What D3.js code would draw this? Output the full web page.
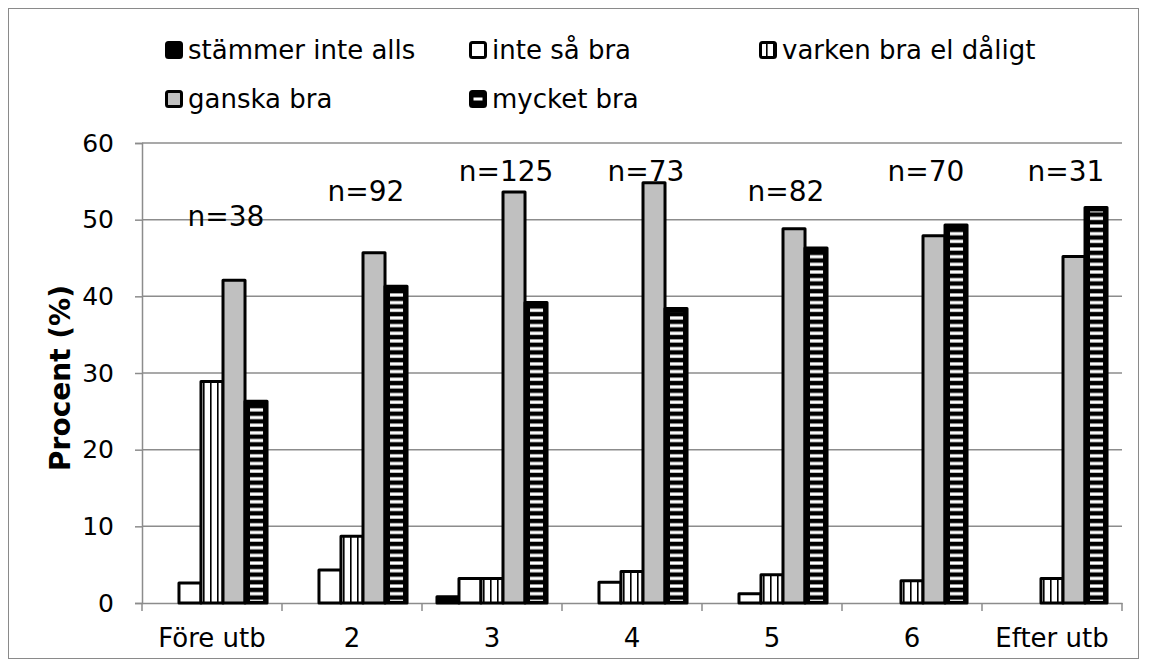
<!DOCTYPE html>
<html>
<head>
<meta charset="utf-8">
<script src="https://cdn.jsdelivr.net/npm/d3@7"></script>
<style>
  body { margin: 0; background: #fff; }
  text { font-family: "DejaVu Sans", Verdana, sans-serif; fill: #000; }
</style>
</head>
<body>
<div id="chart"></div>
<script>
// Data
const categories = ["Före utb", "2", "3", "4", "5", "6", "Efter utb"];
const series = ["stämmer inte alls", "inte så bra", "varken bra el dåligt", "ganska bra", "mycket bra"];
const stammerInteAlls = [0, 0, 0.8, 0, 0, 0, 0];
const inteSaBra = [2.6, 4.3, 3.2, 2.7, 1.2, 0, 0];
const varkenBra = [28.9, 8.7, 3.2, 4.1, 3.7, 2.9, 3.2];
const ganskaBra = [42.1, 45.7, 53.6, 54.8, 48.8, 47.9, 45.2];
const mycketBra = [26.3, 41.3, 39.2, 38.4, 46.3, 49.3, 51.6];
const nLabels = ["n=38", "n=92", "n=125", "n=73", "n=82", "n=70", "n=31"];
const nLabelLevel = [49.2, 52.5, 55.1, 55.1, 52.5, 55.1, 55.1];
const yTicks = [0, 10, 20, 30, 40, 50, 60];

const values = [stammerInteAlls, inteSaBra, varkenBra, ganskaBra, mycketBra];

// Dimensions
const width = 1152, height = 666;
const plot = {left: 142, right: 1122, top: 143, bottom: 603};

const svg = d3.select("#chart")
    .append("svg")
        .attr("width", width)
        .attr("height", height);

// patterns
const defs = svg.append("defs");
const vs = defs.append("pattern")
    .attr("id", "vstripe")
    .attr("patternUnits", "userSpaceOnUse")
    .attr("width", 7).attr("height", 10);
vs.append("rect").attr("width", 7).attr("height", 10).attr("fill", "#fff");
vs.append("rect").attr("x", 0).attr("width", 1.6).attr("height", 10).attr("fill", "#000");

const hs = defs.append("pattern")
    .attr("id", "hstripe")
    .attr("patternUnits", "userSpaceOnUse")
    .attr("width", 10).attr("height", 7.66);
hs.append("rect").attr("width", 10).attr("height", 7.66).attr("fill", "#000");
hs.append("rect").attr("y", 2.3).attr("width", 10).attr("height", 3.2).attr("fill", "#fff");

// Outer border
svg.append("rect")
    .attr("x", 8.5).attr("y", 8.5)
    .attr("width", 1130).attr("height", 650)
    .attr("fill", "none")
    .attr("stroke", "#8a8a8a")
    .attr("stroke-width", 1);

// Scales
const x0 = d3.scaleBand()
    .domain(categories)
    .range([plot.left, plot.right])
    .paddingInner(0).paddingOuter(0);

const x1 = d3.scaleBand()
    .domain(series)
    .range([0, x0.bandwidth()])
    .paddingInner(0).paddingOuter(0.68);

const y = d3.scaleLinear()
    .domain([0, 60])
    .range([plot.bottom, plot.top]);

// Gridlines
svg.append("g")
    .selectAll("line")
    .data(yTicks.filter(d => d > 0))
    .join("line")
        .attr("x1", plot.left).attr("x2", plot.right)
        .attr("y1", d => y(d)).attr("y2", d => y(d))
        .attr("stroke", "#8c8c8c")
        .attr("stroke-width", 1.5);

// Y axis
const yAxis = svg.append("g")
    .attr("transform", `translate(${plot.left},0)`)
    .call(d3.axisLeft(y).tickValues(yTicks).tickSize(7).tickPadding(21));
yAxis.select(".domain").attr("stroke", "#8c8c8c").attr("stroke-width", 1.5);
yAxis.selectAll(".tick line").attr("stroke", "#8c8c8c").attr("stroke-width", 1.5);
yAxis.selectAll(".tick text")
    .style("font-family", "DejaVu Sans")
    .style("font-size", "25px")
    .attr("fill", "#000");

// X axis
const xAxis = svg.append("g")
    .attr("transform", `translate(0,${plot.bottom})`)
    .call(d3.axisBottom(x0).tickSize(0).tickPadding(26));
xAxis.select(".domain").attr("stroke", "#8c8c8c").attr("stroke-width", 1.5);
xAxis.selectAll(".tick text")
    .style("font-family", "DejaVu Sans")
    .style("font-size", "26px")
    .attr("fill", "#000");
// category separators
svg.append("g")
    .selectAll("line")
    .data(categories.concat(["_end"]))
    .join("line")
        .attr("x1", (d, i) => plot.left + i * x0.step())
        .attr("x2", (d, i) => plot.left + i * x0.step())
        .attr("y1", plot.bottom).attr("y2", plot.bottom + 8)
        .attr("stroke", "#8c8c8c")
        .attr("stroke-width", 1.5);

// Y axis label
svg.append("text")
    .attr("transform", `translate(70,378) rotate(-90)`)
    .style("text-anchor", "middle")
    .style("font-size", "28px")
    .style("font-weight", "bold")
    .text("Procent (%)");

// Bars
const barData = [];
categories.forEach(function(cat, ci) {
    series.forEach(function(s, si) {
        barData.push({cat: cat, series: s, si: si, value: values[si][ci]});
    });
});

const bars = svg.append("g");
const fills = ["#000", "#fff", "url(#vstripe)", "#c0c0c0", "#000"];

bars.selectAll("rect.bar")
    .data(barData.filter(d => d.value > 0))
    .join("rect")
        .attr("class", "bar")
        .attr("x", d => x0(d.cat) + x1(d.series))
        .attr("y", d => y(d.value))
        .attr("width", x1.bandwidth())
        .attr("height", d => y(0) - y(d.value))
        .attr("fill", d => fills[d.si])
        .attr("stroke", "#000")
        .attr("stroke-width", 3)
        .attr("stroke-linejoin", "round");

// inner stripes for "mycket bra"
bars.selectAll("rect.inner")
    .data(barData.filter(d => d.si === 4 && d.value > 0))
    .join("rect")
        .attr("class", "inner")
        .attr("x", d => x0(d.cat) + x1(d.series) + 5)
        .attr("y", d => y(d.value) + 4)
        .attr("width", x1.bandwidth() - 9)
        .attr("height", d => y(0) - y(d.value) - 6)
        .attr("fill", "url(#hstripe)");

// n labels
svg.append("g")
    .selectAll("text")
    .data(nLabels)
    .join("text")
        .attr("x", (d, i) => x0(categories[i]) + x0.bandwidth() / 2 + 14)
        .attr("y", (d, i) => y(nLabelLevel[i]))
        .style("text-anchor", "middle")
        .style("font-size", "28px")
        .text(d => d);

// Legend
const legendPos = [[165, 50], [469, 50], [759, 50], [165, 99], [469, 99]];
const legend = svg.append("g");
series.forEach(function(s, i) {
    const g = legend.append("g")
        .attr("transform", `translate(${legendPos[i][0]},${legendPos[i][1]})`);
    g.append("rect")
        .attr("x", 1.5).attr("y", -7.5)
        .attr("width", 15).attr("height", 15)
        .attr("rx", 2)
        .attr("fill", fills[i])
        .attr("stroke", "#000")
        .attr("stroke-width", 3);
    if (i === 4) {
        g.append("rect")
            .attr("x", 4.5).attr("y", -1.5)
            .attr("width", 9).attr("height", 3)
            .attr("fill", "#fff");
    }
    g.append("text")
        .attr("x", 23)
        .attr("y", 0)
        .attr("dy", "0.35em")
        .style("font-size", "26px")
        .text(s);
});
</script>
</body>
</html>
